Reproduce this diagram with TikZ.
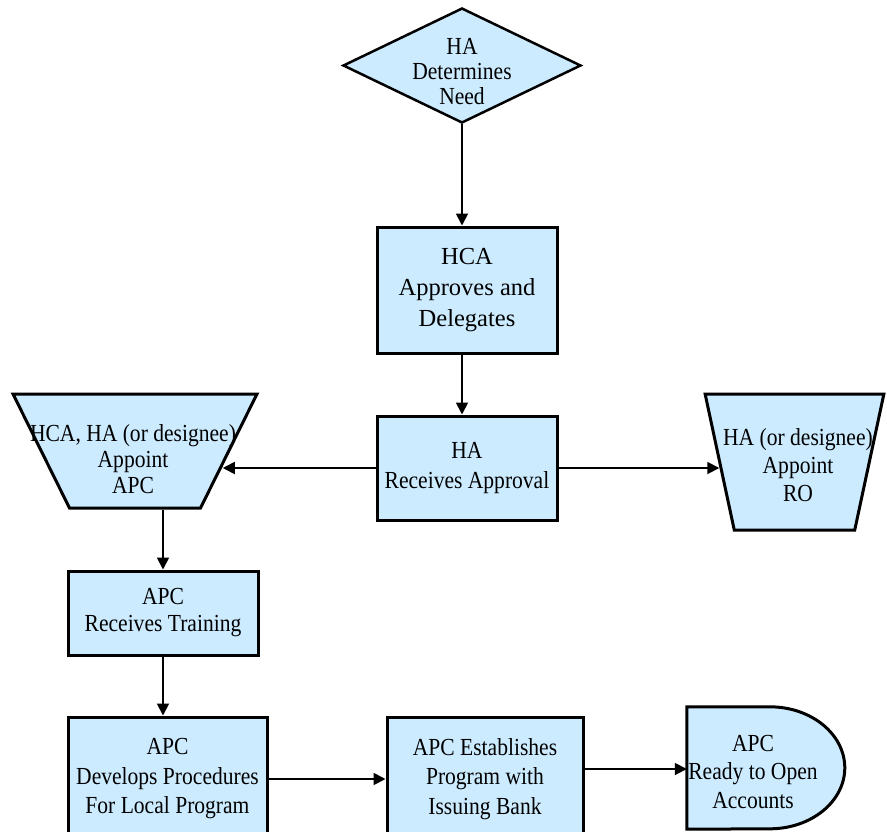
\documentclass[tikz,border=0pt]{standalone}
\usepackage{fontspec}
\setmainfont{Liberation Serif}[FakeStretch=0.88]
\newfontfamily\headfont{Liberation Serif}
\usetikzlibrary{arrows.meta,shapes.geometric}
\definecolor{boxfill}{RGB}{204,235,255}
\begin{document}
\begin{tikzpicture}[x=1pt,y=-1pt,
  shapeline/.style={draw=black, fill=boxfill, line width=3pt},
  procbox/.style={shapeline, rectangle, inner sep=0pt, align=center},
  captext/.style={align=center, inner sep=0pt},
  txt/.style={font=\fontsize{24.5}{#1}\selectfont},
  conn/.style={line width=1.8pt, -{Triangle[length=12pt,width=12pt]}},
  trap/.style={trapezium, shapeline, shape border rotate=180,
    trapezium stretches=true, inner sep=0pt}
]
\useasboundingbox (0,0) rectangle (887,831);
\clip (0,0) rectangle (887,831);

% decision diamond
\node[diamond, shapeline, line width=2.5pt, minimum width=238pt,
  minimum height=115pt, inner sep=0pt] (need) at (462,65.5) {};
\node[captext, txt=25] (needtext) at (462,72) {HA\\Determines\\Need};

% approval boxes
\node[procbox, minimum width=180pt, minimum height=126pt,
  font=\headfont\fontsize{24.5}{31}\selectfont] (hca) at (467,290)
  {HCA\\Approves and\\Delegates};
\node[procbox, minimum width=180pt, minimum height=104pt, txt=30] (ha)
  at (467,468) {HA\\Receives Approval};

% manual operations (trapezia)
\node[trap, trapezium left angle=66.7, trapezium right angle=66.7,
  minimum width=244pt, minimum height=114pt] (apc) at (135,451)
  {\phantom{\rule{10pt}{10pt}}};
\node[captext, txt=26] (apctext) at (133,459)
  {HCA, HA (or designee)\\Appoint\\APC};
\node[trap, trapezium left angle=76.4, trapezium right angle=76.4,
  minimum width=179pt, minimum height=136pt] (ro) at (794.5,462)
  {\phantom{\rule{10pt}{10pt}}};
\node[captext, txt=28] (rotext) at (798,465)
  {HA (or designee)\\Appoint\\RO};

% lower process boxes
\node[procbox, minimum width=190pt, minimum height=84pt, txt=27] (train)
  at (163,613) {APC\\Receives Training};
\node[procbox, minimum width=199pt, minimum height=124pt, txt=29.5] (dev)
  at (167.5,779) {APC\\Develops Procedures\\For Local Program};
\node[procbox, minimum width=196pt, minimum height=124pt, txt=29.5] (bank)
  at (485,779) {APC Establishes\\Program with\\Issuing Bank};

% terminal (delay shape)
\node[rectangle, inner sep=0pt, minimum width=158pt, minimum height=122pt]
  (ready) at (766,768) {};
\draw[shapeline] (ready.north west) -- ++(83,0)
  arc[start angle=-90, end angle=90, x radius=75, y radius=61]
  -- (ready.south west) -- cycle;
\node[captext, txt=28.5] (readytext) at (753,771.5)
  {APC\\Ready to Open\\Accounts};

% connectors
\draw[conn] (need.south) -- (need.south |- hca.north);
\draw[conn] (hca.south -| need.south) -- (ha.north -| need.south);
\draw[conn] (ha.west) -- (ha.west -| apc.-10.7);
\draw[conn] (ha.east) -- (ha.east -| ro.184.8);
\draw[conn] (train.north |- apc.-90) -- (train.north);
\draw[conn] (train.south) -- (train.south |- dev.north);
\draw[conn] (dev.east) -- (bank.west);
\draw[conn] ([yshift=10pt]bank.east) -- ([yshift=10pt]bank.east -| ready.west);
\end{tikzpicture}
\end{document}
